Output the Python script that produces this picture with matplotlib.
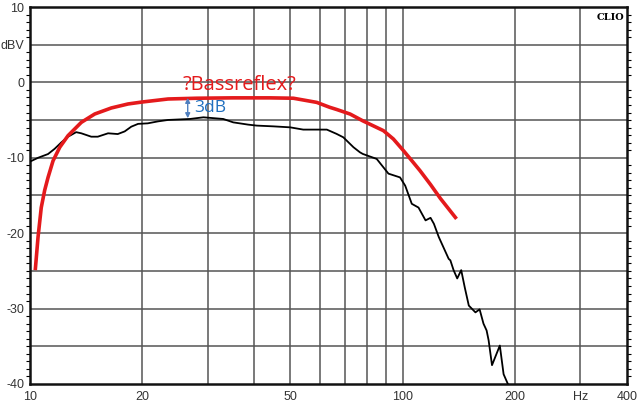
import numpy as np
import matplotlib
matplotlib.use("Agg")
import matplotlib.pyplot as plt
from matplotlib.ticker import FixedLocator, NullFormatter

# Measured response (black)
meas_f = [10.0, 10.51, 11.18, 11.65, 12.14, 12.65, 13.3, 13.73, 14.6, 15.2, 16.2, 17.2, 17.95,
          18.7, 19.5, 20.7, 22.05, 23.47, 26.87, 29.2, 33.0, 35.1, 38.5, 40.6, 45.0, 49.9,
          54.1, 62.6, 66.5, 69.3, 73.8, 76.8, 78.2, 85.2, 91.6, 98.4, 101.6, 105.8, 110.3,
          115.2, 118.8, 121.3, 125.0, 132.9, 134.3, 137.0, 140.1, 143.6, 146.8, 150.5, 156.8,
          160.9, 164.8, 168.0, 170.1, 173.7, 182.3, 186.6, 191.6]
meas_db = [-10.5, -10.0, -9.5, -8.8, -7.95, -7.2, -6.6, -6.75, -7.2, -7.2, -6.75, -6.85, -6.5,
           -5.87, -5.5, -5.43, -5.17, -4.98, -4.85, -4.63, -4.85, -5.3, -5.6, -5.73, -5.83, -5.96,
           -6.26, -6.26, -6.83, -7.28, -8.6, -9.27, -9.49, -10.15, -12.1, -12.6, -13.7, -16.1, -16.6,
           -18.3, -17.96, -18.75, -20.5, -23.4, -23.6, -24.9, -26.0, -24.9, -27.2, -29.6, -30.5,
           -30.1, -32.0, -32.9, -34.2, -37.5, -34.9, -38.7, -40.0]

# Hypothetical bass-reflex curve (red)
br_f = [10.33, 10.51, 10.72, 10.95, 11.18, 11.53, 12.02, 12.65, 13.73, 14.92, 16.53, 18.33,
        20.0, 23.47, 28.0, 35.0, 44.0, 50.9, 58.8, 63.7, 66.6, 72.3, 78.2, 88.8, 94.4,
        100.5, 105.9, 111.3, 118.8, 126.3, 139.5]
br_db = [-24.9, -20.5, -16.6, -14.3, -12.6, -10.4, -8.6, -7.06, -5.3, -4.19, -3.39, -2.86,
         -2.6, -2.2, -2.1, -2.05, -2.05, -2.1, -2.65, -3.3, -3.6, -4.2, -5.1, -6.4, -7.5,
         -9.05, -10.4, -11.7, -13.55, -15.4, -18.1]

x_grid = [20, 30, 40, 50, 60, 70, 80, 90, 100, 200, 300]
x_labels = {10: "10", 20: "20", 50: "50", 100: "100", 200: "200", 300: "Hz", 400: "400"}
y_grid = [5, 0, -5, -10, -15, -20, -25, -30, -35]
y_labels = {10: "10", 5: "dBV", 0: "0", -10: "-10", -20: "-20", -30: "-30", -40: "-40"}

fig = plt.figure(figsize=(6.4, 4.05), dpi=100)
ax = fig.add_axes([30/640, 1-384/405, 597/640, 377/405])
ax.set_xscale("log")
ax.set_xlim(10, 400)
ax.set_ylim(-40, 10)

for g in x_grid:
    ax.axvline(g, color="#555555", lw=1.1, zorder=1)
for g in y_grid:
    ax.axhline(g, color="#555555", lw=1.1, zorder=1)

ax.plot(meas_f, meas_db, color="black", lw=1.3, zorder=3, solid_joinstyle="round")
ax.plot(br_f, br_db, color="#e41a1c", lw=2.6, zorder=4, solid_capstyle="butt",
        solid_joinstyle="round")

ax.xaxis.set_major_locator(FixedLocator(list(x_labels.keys())))
ax.set_xticklabels(list(x_labels.values()))
ax.xaxis.set_minor_locator(FixedLocator([]))
ax.xaxis.set_minor_formatter(NullFormatter())
ax.tick_params(axis="x", which="major", length=0, pad=5, labelsize=9, labelcolor="#333333")

ax.yaxis.set_major_locator(FixedLocator(list(y_labels.keys())))
ax.set_yticklabels(list(y_labels.values()))
ax.yaxis.set_minor_locator(FixedLocator(list(range(-40, 11))))
ax.tick_params(axis="y", which="major", length=0, pad=4, labelsize=9, labelcolor="#333333")
ax.tick_params(axis="y", which="minor", length=3, width=0.8, direction="out", left=True, right=True)

for lbl in ax.get_xticklabels() + ax.get_yticklabels():
    lbl.set_fontfamily("Liberation Sans")

for s in ax.spines.values():
    s.set_linewidth(1.8)
    s.set_color("#111111")

ax.text(0.995, 0.985, "CLIO", transform=ax.transAxes, ha="right", va="top",
        fontsize=7, fontweight="bold", family="DejaVu Serif")

ax.text(36.6, -1.0, "?Bassreflex?", color="#e41a1c", fontsize=14.5,
        family="Open Sans", ha="center", va="baseline")
ax.annotate("", xy=(26.5, -2.05), xytext=(26.5, -4.75),
            arrowprops=dict(arrowstyle="<|-|>", color="#4f7fbf", lw=1.0,
                            mutation_scale=7, shrinkA=0, shrinkB=0), zorder=5)
ax.text(27.6, -3.35, "3dB", color="#1f6fbf", fontsize=12.5, family="Open Sans",
        ha="left", va="center")

fig.savefig("out.png", dpi=100)
